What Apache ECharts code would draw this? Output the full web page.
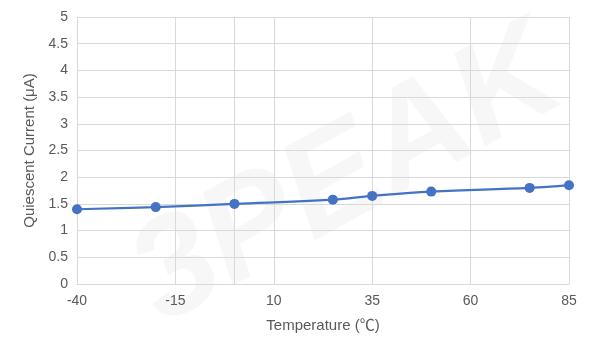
<!DOCTYPE html>
<html>
<head>
<meta charset="utf-8">
<script src="https://cdn.jsdelivr.net/npm/echarts@6/dist/echarts.min.js"></script>
<style>
  html, body { margin: 0; padding: 0; background: #fff; }
  #main { width: 592px; height: 354px; }
</style>
</head>
<body>
<div id="main"></div>
<script>
// 温度 (℃)
const temperatures = [-40, -20, 0, 25, 35, 50, 75, 85];
// 静态电流 (μA)
const currents = [1.40, 1.44, 1.50, 1.58, 1.65, 1.73, 1.80, 1.85];

const axisTextColor = '#595959';
const gridColor = '#d9d9d9';
const fontFamily = 'Liberation Sans, Noto Sans CJK SC';

var chart = echarts.init(document.getElementById('main'), null, { renderer: 'canvas' });

var option = {
    animation: false,
    graphic: [
        {
            // 背景水印
            type: 'text',
            z: -10,
            rotation: Math.PI * 29 / 180,
            x: 110,
            y: 230,
            style: {
                text: '3PEAK',
                fontSize: 140,
                fontWeight: 'bold',
                fontStyle: 'italic',
                fontFamily: 'Liberation Sans',
                fill: 'rgba(0,0,0,0.03)'
            }
        }
    ],
    grid: {
        left: 77,
        right: 23,
        top: 17,
        bottom: 70
    },
    xAxis: {
        type: 'value',
        min: -40,
        max: 85,
        interval: 25,
        name: 'Temperature (℃)',
        nameLocation: 'middle',
        nameGap: 34,
        nameTextStyle: { color: axisTextColor, fontSize: 15, fontFamily: fontFamily },
        axisLine: { show: true, lineStyle: { color: gridColor, width: 1 } },
        axisTick: { show: false },
        axisLabel: { color: axisTextColor, fontSize: 14, margin: 10, fontFamily: fontFamily },
        splitLine: { show: true, lineStyle: { color: gridColor, width: 1 } }
    },
    yAxis: {
        type: 'value',
        min: 0,
        max: 5,
        interval: 0.5,
        name: 'Quiescent Current (μA)',
        nameLocation: 'middle',
        nameGap: 40,
        nameTextStyle: { color: axisTextColor, fontSize: 15, fontFamily: fontFamily },
        axisLine: { show: true, lineStyle: { color: gridColor, width: 1 } },
        axisTick: { show: false },
        axisLabel: { color: axisTextColor, fontSize: 14, margin: 9, fontFamily: fontFamily },
        splitLine: { show: true, lineStyle: { color: gridColor, width: 1 } }
    },
    series: [
        {
            type: 'line',
            data: temperatures.map((t, i) => [t, currents[i]]),
            smooth: 0.4,
            symbol: 'circle',
            symbolSize: 10,
            lineStyle: { color: '#4472C4', width: 2.2 },
            itemStyle: { color: '#4472C4' }
        }
    ]
};

chart.setOption(option);
</script>
</body>
</html>
